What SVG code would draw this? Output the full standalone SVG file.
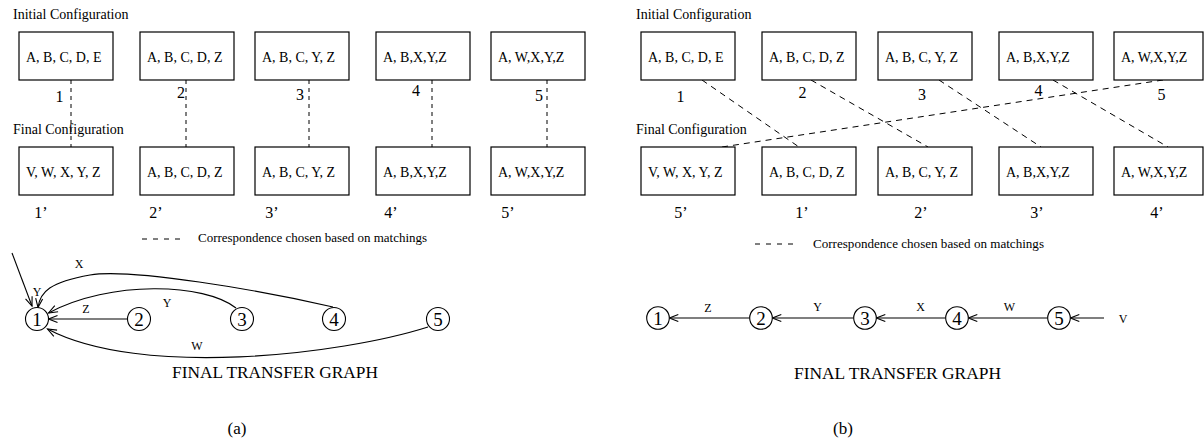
<svg xmlns="http://www.w3.org/2000/svg" width="1204" height="439" viewBox="0 0 1204 439">
  <style>
    text { font-family: "Liberation Serif", "Times New Roman", serif; fill: #000; }
    .box rect { fill: #fff; stroke: #000; stroke-width: 1.2; }
    .box text { font-size: 14px; }
    .head { font-size: 14px; }
    .num { font-size: 16px; text-anchor: middle; }
    .corr { stroke: #000; stroke-width: 1; fill: none; stroke-dasharray: 4 4; }
    .corr-d { stroke: #000; stroke-width: 1; fill: none; stroke-dasharray: 6 5; }
    .legend { font-size: 11.5px; }
    .node circle { fill: #fff; stroke: #000; stroke-width: 1.1; }
    .node text { font-size: 19px; text-anchor: middle; }
    .edge { stroke: #000; stroke-width: 1.1; fill: none; marker-end: url(#open); }
    .elabel { font-size: 12px; text-anchor: middle; }
    .title { font-size: 17px; }
    .caption { font-size: 17px; text-anchor: middle; }
  </style>
  <defs>
    <marker id="open" markerUnits="userSpaceOnUse" viewBox="-11 -6 13 12" refX="0" refY="0" markerWidth="13" markerHeight="12" orient="auto" overflow="visible">
      <path d="M -9 -3.5 L 0 0 L -9 3.5" fill="none" stroke="#000" stroke-width="1.1"/>
    </marker>
  </defs>

  <rect width="1204" height="439" fill="#fff"/>

  <!-- ===== (a) identity correspondence ===== -->
  <text class="head" x="13" y="19">Initial Configuration</text>
  <text class="head" x="13" y="134">Final Configuration</text>

  <g id="connectors-a">
    <line class="corr" x1="71" y1="80" x2="71" y2="147"/>
    <line class="corr" x1="186" y1="80" x2="186" y2="147"/>
    <line class="corr" x1="309" y1="80" x2="309" y2="147"/>
    <line class="corr" x1="432" y1="80" x2="432" y2="147"/>
    <line class="corr" x1="547" y1="80" x2="547" y2="147"/>
    <path class="edge" d="M 127.5 319 L 48.5 319"/>
    <path class="edge" d="M 236 308 C 205 283, 110 280, 48.5 313"/>
    <path class="edge" d="M 333 307 C 260 290, 130 268, 90 275 S 40 292, 38 307.5"/>
    <path class="edge" d="M 12 253 L 32 306"/>
    <path class="edge" d="M 428 327 C 340 355, 140 378, 47.5 329"/>
  </g>

  <g id="a-init-1" class="box"><rect x="19" y="32" width="94" height="48"/><text x="26" y="62">A, B, C, D, E</text></g>
  <g id="a-init-2" class="box"><rect x="140" y="32" width="94" height="48"/><text x="147" y="62">A, B, C, D, Z</text></g>
  <g id="a-init-3" class="box"><rect x="255" y="32" width="94" height="48"/><text x="262" y="62">A, B, C, Y, Z</text></g>
  <g id="a-init-4" class="box"><rect x="376" y="32" width="94" height="48"/><text x="383" y="62">A, B,X,Y,Z</text></g>
  <g id="a-init-5" class="box"><rect x="491" y="32" width="94" height="48"/><text x="498" y="62">A, W,X,Y,Z</text></g>

  <g id="a-final-1" class="box"><rect x="19" y="147" width="94" height="48"/><text x="26" y="177">V, W, X, Y, Z</text></g>
  <g id="a-final-2" class="box"><rect x="140" y="147" width="94" height="48"/><text x="147" y="177">A, B, C, D, Z</text></g>
  <g id="a-final-3" class="box"><rect x="255" y="147" width="94" height="48"/><text x="262" y="177">A, B, C, Y, Z</text></g>
  <g id="a-final-4" class="box"><rect x="376" y="147" width="94" height="48"/><text x="383" y="177">A, B,X,Y,Z</text></g>
  <g id="a-final-5" class="box"><rect x="491" y="147" width="94" height="48"/><text x="498" y="177">A, W,X,Y,Z</text></g>

  <text class="num" x="59.5" y="102">1</text>
  <text class="num" x="181" y="98">2</text>
  <text class="num" x="300" y="100">3</text>
  <text class="num" x="416" y="96">4</text>
  <text class="num" x="539" y="101">5</text>

  <text class="num" x="41" y="218">1’</text>
  <text class="num" x="156" y="218">2’</text>
  <text class="num" x="272" y="218">3’</text>
  <text class="num" x="391" y="218">4’</text>
  <text class="num" x="508" y="218">5’</text>

  <line class="corr" x1="142" y1="239" x2="182" y2="239" style="stroke-dasharray:5 6"/>
  <text class="legend" x="198" y="242" textLength="229" lengthAdjust="spacingAndGlyphs">Correspondence chosen based on matchings</text>

  <g id="a-node-1" class="node"><circle cx="37" cy="319" r="11.5"/><text x="37" y="325.5">1</text></g>
  <g id="a-node-2" class="node"><circle cx="139" cy="319" r="11.5"/><text x="139" y="325.5">2</text></g>
  <g id="a-node-3" class="node"><circle cx="242" cy="319" r="11.5"/><text x="242" y="325.5">3</text></g>
  <g id="a-node-4" class="node"><circle cx="334" cy="319" r="11.5"/><text x="334" y="325.5">4</text></g>
  <g id="a-node-5" class="node"><circle cx="438" cy="319" r="11.5"/><text x="438" y="325.5">5</text></g>

  <text class="elabel" x="86" y="313">Z</text>
  <text class="elabel" x="167" y="307">Y</text>
  <text class="elabel" x="79" y="268">X</text>
  <text class="elabel" x="37" y="296">Y</text>
  <text class="elabel" x="197" y="350">W</text>

  <text class="title" x="172" y="378" textLength="206" lengthAdjust="spacingAndGlyphs">FINAL TRANSFER GRAPH</text>
  <text class="caption" x="237" y="434">(a)</text>

  <!-- ===== (b) correspondence chosen by matchings ===== -->
  <text class="head" x="636" y="19">Initial Configuration</text>
  <text class="head" x="636" y="134">Final Configuration</text>

  <g id="connectors-b">
    <line class="corr-d" x1="702" y1="80" x2="799" y2="147"/>
    <line class="corr-d" x1="811" y1="80" x2="928" y2="147"/>
    <line class="corr-d" x1="939" y1="80" x2="1041" y2="147"/>
    <line class="corr-d" x1="1053" y1="80" x2="1168" y2="147"/>
    <line class="corr-d" x1="1163" y1="80" x2="722" y2="147"/>
    <path class="edge" d="M 749.7 318 L 669.3 318"/>
    <path class="edge" d="M 853.7 318 L 772.3 318"/>
    <path class="edge" d="M 945.7 318 L 876.3 318"/>
    <path class="edge" d="M 1047.7 318 L 968.3 318"/>
    <path class="edge" d="M 1104 318 L 1070.3 318"/>
  </g>

  <g id="b-init-1" class="box"><rect x="641" y="32" width="94" height="48"/><text x="648" y="62">A, B, C, D, E</text></g>
  <g id="b-init-2" class="box"><rect x="762" y="32" width="94" height="48"/><text x="769" y="62">A, B, C, D, Z</text></g>
  <g id="b-init-3" class="box"><rect x="878" y="32" width="94" height="48"/><text x="885" y="62">A, B, C, Y, Z</text></g>
  <g id="b-init-4" class="box"><rect x="999" y="32" width="94" height="48"/><text x="1006" y="62">A, B,X,Y,Z</text></g>
  <g id="b-init-5" class="box"><rect x="1114" y="32" width="89" height="48"/><text x="1121" y="62">A, W,X,Y,Z</text></g>

  <g id="b-final-1" class="box"><rect x="641" y="147" width="94" height="48"/><text x="648" y="177">V, W, X, Y, Z</text></g>
  <g id="b-final-2" class="box"><rect x="762" y="147" width="94" height="48"/><text x="769" y="177">A, B, C, D, Z</text></g>
  <g id="b-final-3" class="box"><rect x="878" y="147" width="94" height="48"/><text x="885" y="177">A, B, C, Y, Z</text></g>
  <g id="b-final-4" class="box"><rect x="999" y="147" width="94" height="48"/><text x="1006" y="177">A, B,X,Y,Z</text></g>
  <g id="b-final-5" class="box"><rect x="1114" y="147" width="89" height="48"/><text x="1121" y="177">A, W,X,Y,Z</text></g>

  <text class="num" x="680.5" y="102">1</text>
  <text class="num" x="802.5" y="98">2</text>
  <text class="num" x="922" y="100">3</text>
  <text class="num" x="1038.5" y="96">4</text>
  <text class="num" x="1161.5" y="100">5</text>

  <text class="num" x="681" y="218">5’</text>
  <text class="num" x="802" y="218">1’</text>
  <text class="num" x="921" y="218">2’</text>
  <text class="num" x="1037" y="218">3’</text>
  <text class="num" x="1157" y="218">4’</text>

  <line class="corr" x1="755" y1="244" x2="794" y2="244" style="stroke-dasharray:5 6"/>
  <text class="legend" x="813" y="248" textLength="231" lengthAdjust="spacingAndGlyphs">Correspondence chosen based on matchings</text>

  <g id="b-node-1" class="node"><circle cx="658" cy="318" r="11.3"/><text x="658" y="324.5">1</text></g>
  <g id="b-node-2" class="node"><circle cx="761" cy="318" r="11.3"/><text x="761" y="324.5">2</text></g>
  <g id="b-node-3" class="node"><circle cx="865" cy="318" r="11.3"/><text x="865" y="324.5">3</text></g>
  <g id="b-node-4" class="node"><circle cx="957" cy="318" r="11.3"/><text x="957" y="324.5">4</text></g>
  <g id="b-node-5" class="node"><circle cx="1059" cy="318" r="11.3"/><text x="1059" y="324.5">5</text></g>

  <text class="elabel" x="708" y="311.5">Z</text>
  <text class="elabel" x="817.5" y="311">Y</text>
  <text class="elabel" x="920.5" y="311">X</text>
  <text class="elabel" x="1009.5" y="311">W</text>
  <text class="elabel" x="1123" y="323">V</text>

  <text class="title" x="794" y="379" textLength="207" lengthAdjust="spacingAndGlyphs">FINAL TRANSFER GRAPH</text>
  <text class="caption" x="843" y="434">(b)</text>
</svg>
